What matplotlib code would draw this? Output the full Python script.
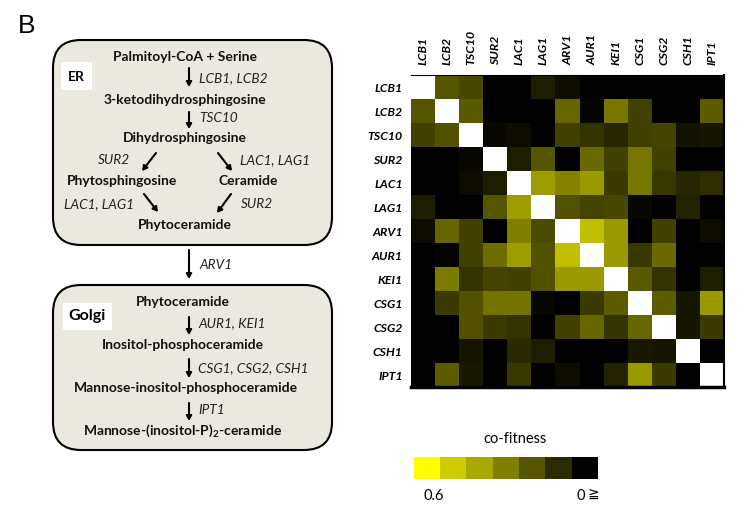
import numpy as np
import matplotlib
matplotlib.use("Agg")
import matplotlib.pyplot as plt
from matplotlib.colors import LinearSegmentedColormap, ListedColormap
from matplotlib.patches import FancyBboxPatch, Rectangle

genes = ["LCB1", "LCB2", "TSC10", "SUR2", "LAC1", "LAG1", "ARV1", "AUR1", "KEI1", "CSG1", "CSG2", "CSH1", "IPT1"]

# co-fitness, nan is the white diagonal
cofit = np.array([
    [np.nan, .20, .17, 0, 0, .07, .03, 0, 0, 0, 0, 0, 0],
    [.20, np.nan, .21, 0, 0, 0, .24, .01, .28, .15, 0, 0, .22],
    [.15, .19, np.nan, .02, .03, 0, .15, .12, .09, .15, .16, .04, .05],
    [0, 0, .02, np.nan, .07, .20, 0, .25, .15, .28, .15, 0, 0],
    [0, 0, .03, .07, np.nan, .37, .31, .36, .14, .28, .13, .09, .11],
    [.07, 0, 0, .20, .37, np.nan, .19, .16, .17, .02, 0, .08, 0],
    [.03, .24, .15, 0, .30, .18, np.nan, .45, .36, 0, .15, 0, .03],
    [0, .01, .15, .26, .37, .19, .45, np.nan, .36, .13, .25, 0, 0],
    [0, .29, .12, .16, .15, .19, .36, .36, np.nan, .21, .12, 0, .07],
    [0, .14, .19, .27, .27, .02, 0, .14, .22, np.nan, .22, .05, .36],
    [0, 0, .19, .14, .12, 0, .15, .24, .12, .24, np.nan, .05, .14],
    [0, 0, .05, 0, .10, .07, 0, 0, 0, .06, .05, np.nan, 0],
    [0, .22, .06, 0, .13, 0, .03, 0, .08, .36, .14, 0, np.nan],
])

er_lipids = ["Palmitoyl-CoA + Serine", "3-ketodihydrosphingosine", "Dihydrosphingosine",
             "Phytosphingosine", "Ceramide", "Phytoceramide"]
golgi_lipids = ["Phytoceramide", "Inositol-phosphoceramide", "Mannose-inositol-phosphoceramide",
                "Mannose-(inositol-P)$_\\mathbf{2}$-ceramide"]
key_colors = ["#ffff00", "#cccc00", "#a8a800", "#808000", "#555500", "#2b2b00", "#000000"]

W, H = 754, 513
plt.rcParams['font.family'] = ['Lato', 'DejaVu Sans']
plt.rcParams['mathtext.fontset'] = 'custom'
plt.rcParams['mathtext.bf'] = 'Lato:bold'
fig = plt.figure(figsize=(W / 100, H / 100), dpi=100)

# whole figure in pixel coords for the pathway part
bg = fig.add_axes([0, 0, 1, 1])
bg.set_xlim(0, W)
bg.set_ylim(H, 0)
bg.axis("off")

bg.text(18, 26, "B", fontsize=19, ha="left", va="center", family="Liberation Sans")


def box(x0, y0, x1, y1):
    pad = 28
    bg.add_patch(FancyBboxPatch((x0 + pad, y0 + pad), x1 - x0 - 2 * pad, y1 - y0 - 2 * pad,
                                boxstyle="round,pad=%d,rounding_size=%d" % (pad, pad),
                                fc="#ebe8df", ec="black", lw=1.5))


def arrow(x0, y0, x1, y1):
    bg.annotate("", xy=(x1, y1), xytext=(x0, y0),
                arrowprops=dict(arrowstyle="-|>,head_width=0.16,head_length=0.28", color="black",
                                lw=1.5, shrinkA=0, shrinkB=0))


def lipid(x, y, s):
    bg.text(x, y, s, fontsize=10, fontweight="bold", ha="center", va="center", color="#111111")


def enzyme(x, y, s):
    bg.text(x, y, s, fontsize=9.8, style="italic", ha="left", va="center", color="#222222")


box(53, 40, 332, 245)
box(53, 285, 332, 450)

bg.add_patch(Rectangle((61, 62), 31, 28, fc="white", ec="none"))
bg.text(76, 77, "ER", fontsize=10, fontweight="bold", ha="center", va="center")
bg.add_patch(Rectangle((63, 303), 49, 27, fc="white", ec="none"))
bg.text(87, 316, "Golgi", fontsize=11.5, fontweight="bold", ha="center", va="center")

lipid(185, 57, er_lipids[0])
lipid(185, 100, er_lipids[1])
lipid(185, 138, er_lipids[2])
lipid(122, 181, er_lipids[3])
lipid(248, 181, er_lipids[4])
lipid(185, 225, er_lipids[5])

arrow(189, 68, 189, 87)
arrow(189, 112, 189, 129)
arrow(156, 153, 142, 171)
arrow(218, 153, 232, 171)
arrow(144, 194, 158, 212)
arrow(231, 194, 217, 213)

enzyme(199, 78, "LCB1, LCB2")
enzyme(199, 118, "TSC10")
enzyme(98, 160, "SUR2")
enzyme(240, 160, "LAC1, LAG1")
enzyme(64, 204, "LAC1, LAG1")
enzyme(241, 204, "SUR2")

arrow(189, 250, 189, 279)
enzyme(199, 265, "ARV1")

lipid(183, 302, golgi_lipids[0])
lipid(183, 345, golgi_lipids[1])
lipid(186, 388, golgi_lipids[2])
lipid(183, 431, golgi_lipids[3])

arrow(189, 317, 189, 335)
arrow(189, 359, 189, 378)
arrow(189, 403, 189, 421)

enzyme(198, 323, "AUR1, KEI1")
enzyme(198, 368, "CSG1, CSG2, CSH1")
enzyme(198, 410, "IPT1")

# heatmap
cmap = LinearSegmentedColormap.from_list("cofit", ["#000000", "#ffff00"])
cmap.set_bad("white")
ax = fig.add_axes([411 / W, 1 - 387 / H, 313 / W, 312 / H])
ax.imshow(np.ma.masked_invalid(cofit), cmap=cmap, vmin=0, vmax=0.6, aspect="auto", interpolation="nearest")
ax.set_xticks(range(len(genes)))
ax.set_yticks(range(len(genes)))
ax.set_xticklabels(genes, rotation=90, style="italic", fontweight="bold", fontsize=8.8)
ax.set_yticklabels(genes, style="italic", fontweight="bold", fontsize=8.8)
ax.xaxis.tick_top()
ax.tick_params(axis="x", length=0, pad=7)
ax.tick_params(axis="y", length=0, pad=6)
ax.spines["left"].set_visible(False)
ax.spines["top"].set_linewidth(0.8)
ax.spines["right"].set_linewidth(1.5)
ax.spines["bottom"].set_linewidth(2.5)

# colour key
cax = fig.add_axes([414 / W, 1 - 479 / H, 184 / W, 22 / H])
cax.imshow([np.arange(len(key_colors))], cmap=ListedColormap(key_colors), aspect="auto")
cax.axis("off")

bg.text(515, 439, "co-fitness", fontsize=10.5, ha="center", va="center")
bg.text(434, 496, "0.6", fontsize=10.5, ha="center", va="center")
bg.text(581, 496, "0", fontsize=10.5, ha="center", va="center")
bg.text(593, 495, "\u2267", fontsize=10, ha="center", va="center", family=["DejaVu Sans"])

fig.savefig("out.png", dpi=100)
